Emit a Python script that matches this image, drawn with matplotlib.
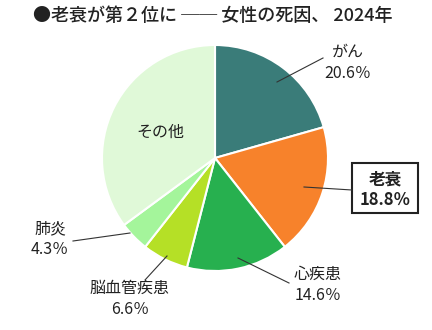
import matplotlib
matplotlib.use("Agg")
import matplotlib.pyplot as plt
from matplotlib.patches import Rectangle

plt.rcParams['font.family'] = ['Noto Sans CJK JP', 'DejaVu Sans']

causes = ['がん', '老衰', '心疾患', '脳血管疾患', '肺炎', 'その他']
shares = [20.6, 18.8, 14.6, 6.6, 4.3, 35.1]
colors = ['#3a7c79', '#f7822b', '#27b04f', '#b5e026', '#a4f59b', '#e0f9d8']

W, H = 432, 330
fig = plt.figure(figsize=(W / 100, H / 100), dpi=100)
ax = fig.add_axes([0, 0, 1, 1])
ax.set_xlim(0, W)
ax.set_ylim(0, H)
ax.set_aspect('equal')
ax.axis('off')

cx, cy, r = 215, H - 158, 113
ax.pie(shares, colors=colors, startangle=90, counterclock=False,
       center=(cx, cy), radius=r,
       wedgeprops=dict(edgecolor='white', linewidth=1.5))
ax.set_xlim(0, W)
ax.set_ylim(0, H)


def y(v):
    return H - v


txt = dict(ha='center', va='center', color='#222222')

# leader lines: (from inside the wedge, to the label)
leaders = {
    'がん': ((277, 82), (323, 58)),
    '老衰': ((304, 187), (352, 190)),
    '心疾患': ((238, 258), (289, 283)),
    '脳血管疾患': ((167, 256), (145, 280)),
    '肺炎': ((130, 233), (73, 241)),
}
label_pos = {
    'がん': (348, 52),
    '老衰': (385, 179),
    '心疾患': (318, 274),
    '脳血管疾患': (130, 288),
    '肺炎': (50, 229),
}

for name, val in zip(causes, shares):
    if name == 'その他':
        ax.text(160, y(132), name, fontsize=11.5, **txt)
        continue
    (x0, y0), (x1, y1) = leaders[name]
    ax.plot([x0, x1], [y(y0), y(y1)], color='#333333', lw=0.8)
    lx, ly = label_pos[name]
    if name == '老衰':
        kw = dict(fontweight='bold', fontsize=12)
    else:
        kw = dict(fontweight='normal', fontsize=11.5)
    ax.text(lx, y(ly), name, **kw, **txt)
    ax.text(lx, y(ly + 21), f'{val}％', **kw, **txt)

# highlight box around 老衰
ax.add_patch(Rectangle((352, y(213)), 66, 50, fill=False,
                       edgecolor='#222222', lw=1.5))

ax.text(33, y(16), '●老衰が第２位に ── 女性の死因、 2024年',
        ha='left', va='center', fontsize=13, fontweight='medium',
        color='#222222')

fig.savefig('out.png', dpi=100)
